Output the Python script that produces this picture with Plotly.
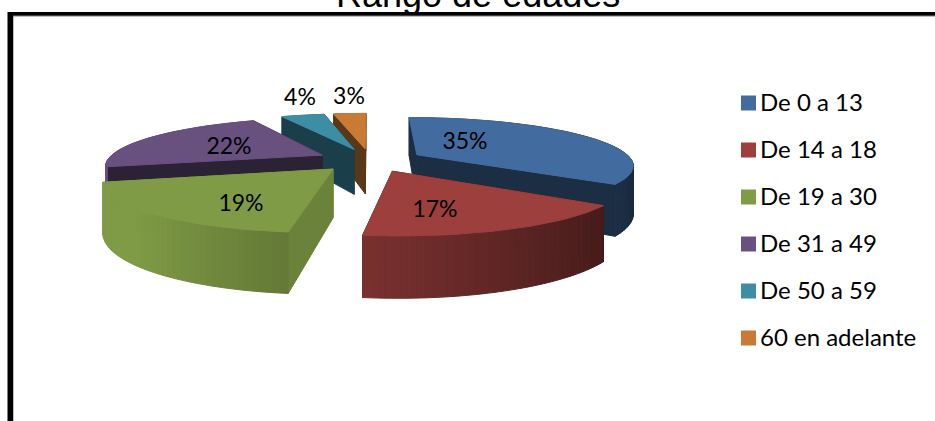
import math
import plotly.graph_objects as go

# ---- data ----
categories = ["De 0 a 13", "De 14 a 18", "De 19 a 30", "De 31 a 49", "De 50 a 59", "60 en adelante"]
shares = [35, 17, 19, 22, 4, 3]
slice_labels = ["35%", "17%", "19%", "22%", "4%", "3%"]
top_colors = ["#426B9F", "#9C3F3D", "#7F9B46", "#68507F", "#3D8DA5", "#C97B35"]
radial_shade = [0.43, 0.43, 0.84, 0.43, 0.45, 0.45]
label_px = [(465, 143), (435, 211), (241, 205), (229, 148), (300, 99), (349, 98)]
legend_y = [103, 150, 197, 244, 291, 338]
draw_order = [5, 4, 3, 0, 2, 1]

W, H = 935, 421
CX, CY, A, B, K, EXPL, DEPTH = 370, 160, 215, 46.6, 0.20, 0.25, 47


def proj(x, y, drop=0.0):
    w = 1 + K * y
    return CX + A * x / w, CY - B * y / w + drop / w


def rgb(hexc, f):
    r, g, b = (int(hexc[i:i + 2], 16) for i in (1, 3, 5))
    return f"rgb({min(255, int(r * f))},{min(255, int(g * f))},{min(255, int(b * f))})"


def poly(points, color):
    xs = [p[0] for p in points] + [points[0][0]]
    ys = [p[1] for p in points] + [points[0][1]]
    return go.Scatter(x=xs, y=ys, mode="lines", fill="toself", fillcolor=color,
                      line=dict(color=color, width=1), hoverinfo="skip", showlegend=False)


fig = go.Figure()

# cumulative angle of each slice, clockwise from twelve o'clock
starts, acc = [], 0
for s in shares:
    starts.append(acc)
    acc += s
total = sum(shares)

for i in draw_order:
    a0 = starts[i] / total * 2 * math.pi
    a1 = (starts[i] + shares[i]) / total * 2 * math.pi
    am = (a0 + a1) / 2
    ox, oy = EXPL * math.sin(am), EXPL * math.cos(am)
    n = max(3, int((a1 - a0) / math.radians(1.5)))
    rim = [(ox + math.sin(a0 + (a1 - a0) * t / n), oy + math.cos(a0 + (a1 - a0) * t / n)) for t in range(n + 1)]

    faces = []
    for p in (rim[0], rim[-1]):
        q = [proj(ox, oy), proj(*p), proj(*p, DEPTH), proj(ox, oy, DEPTH)]
        faces.append(((oy + p[1]) / 2, poly(q, rgb(top_colors[i], radial_shade[i]))))
    for t in range(n):
        p, r = rim[t], rim[t + 1]
        nx = math.sin(a0 + (a1 - a0) * (t + 0.5) / n)
        shade = min(1.0, 0.74 - 0.36 * nx)
        q = [proj(*p), proj(*r), proj(*r, DEPTH), proj(*p, DEPTH)]
        faces.append(((p[1] + r[1]) / 2, poly(q, rgb(top_colors[i], shade))))
    faces.sort(key=lambda f: -f[0])
    for _, tr in faces:
        fig.add_trace(tr)
    fig.add_trace(poly([proj(ox, oy)] + [proj(*p) for p in rim], top_colors[i]))

# percentage labels
fig.add_trace(go.Scatter(x=[p[0] for p in label_px], y=[p[1] for p in label_px], mode="text",
                         text=slice_labels, textposition="middle center",
                         textfont=dict(family="Lato", size=23, color="#000000"),
                         hoverinfo="skip", showlegend=False))
# legend column
fig.add_trace(go.Scatter(x=[748.5] * len(categories), y=legend_y, mode="markers",
                         marker=dict(symbol="square", size=15, color=top_colors),
                         hoverinfo="skip", showlegend=False))
fig.add_trace(go.Scatter(x=[760] * len(categories), y=[v + 2 for v in legend_y], mode="text",
                         text=categories, textposition="middle right",
                         textfont=dict(family="Lato", size=24, color="#000000"),
                         hoverinfo="skip", showlegend=False))

fig.update_layout(
    width=W, height=H, margin=dict(l=0, r=0, t=0, b=0),
    paper_bgcolor="#FFFFFF", plot_bgcolor="#FFFFFF", showlegend=False,
    xaxis=dict(range=[0, W], visible=False, fixedrange=True),
    yaxis=dict(range=[H, 0], visible=False, fixedrange=True),
    shapes=[
        dict(type="rect", xref="x", yref="y", x0=7, x1=W, y0=12, y1=16.5, fillcolor="#808080", line_width=0, layer="below"),
        dict(type="rect", xref="x", yref="y", x0=7, x1=13.5, y0=12, y1=H, fillcolor="#808080", line_width=0, layer="below"),
        dict(type="rect", xref="x", yref="y", x0=8, x1=W, y0=12, y1=15.5, fillcolor="#000000", line_width=0, layer="below"),
        dict(type="rect", xref="x", yref="y", x0=8, x1=13, y0=12, y1=H, fillcolor="#000000", line_width=0, layer="below"),
    ],
    annotations=[dict(text="Rango de edades", xref="paper", yref="paper", x=478 / W, y=1, yshift=6,
                      showarrow=False, xanchor="center", yanchor="middle",
                      font=dict(family="Liberation Sans", size=36, color="#000000"))],
)
fig.write_html("out.html", config={"displayModeBar": False},
               post_script="document.body.style.margin='0';document.documentElement.style.overflow='hidden';")
